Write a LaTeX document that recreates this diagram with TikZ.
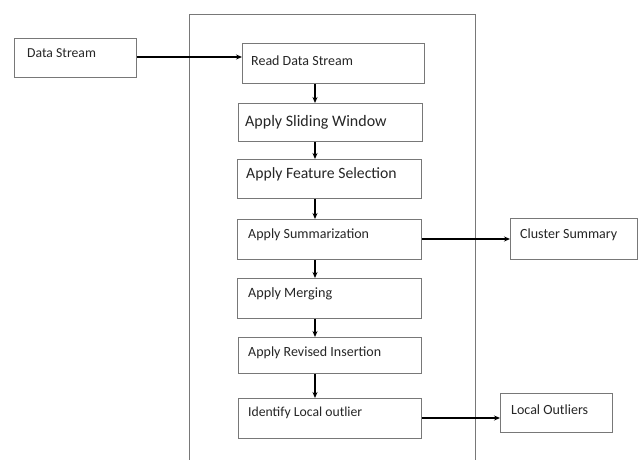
\documentclass[tikz,border=0pt]{standalone}
\usepackage{fontspec}
\setmainfont{Carlito}
\usetikzlibrary{arrows.meta,calc}
\definecolor{boxgray}{RGB}{120,120,120}
\begin{document}
\begin{tikzpicture}[x=1pt,y=-1pt,
  box/.style={draw=boxgray,line width=0.9pt,rectangle,inner sep=0pt,anchor=north west},
  lbl/.style={anchor=west,inner sep=0pt,text=black!85},
  arr/.style={-{Stealth[length=6pt,width=5pt]},line width=1.3pt,black}]
\useasboundingbox (0,0) rectangle (638,460);
\fill[white] (0,0) rectangle (638,460);
% frame
\draw[boxgray,line width=0.9pt] (189,460) -- (189,14) -- (475,14) -- (475,460);
% boxes
\node[box,minimum width=122pt,minimum height=39pt] (ds) at (14,38) {};
\node[box,minimum width=182pt,minimum height=40pt] (b1) at (242,43) {};
\node[box,minimum width=184pt,minimum height=38pt] (b2) at (238,103) {};
\node[box,minimum width=184pt,minimum height=39pt] (b3) at (237,159) {};
\node[box,minimum width=184pt,minimum height=40pt] (b4) at (237,219) {};
\node[box,minimum width=184pt,minimum height=40pt] (b5) at (237,278) {};
\node[box,minimum width=183pt,minimum height=36pt] (b6) at (238,337) {};
\node[box,minimum width=183pt,minimum height=40pt] (b7) at (238,398) {};
\node[box,minimum width=127pt,minimum height=41pt] (cs) at (510,218) {};
\node[box,minimum width=112pt,minimum height=39pt] (lo) at (500,393) {};
% labels
\node[lbl,font=\fontsize{13.7}{15}\selectfont] (tds) at (27,53) {Data Stream};
\node[lbl,font=\fontsize{14}{16}\selectfont] (t1) at (251,61) {Read Data Stream};
\node[lbl,font=\fontsize{16}{18}\selectfont] (t2) at (245,122) {Apply Sliding Window};
\node[lbl,font=\fontsize{15.7}{18}\selectfont] (t3) at (246,174) {Apply Feature Selection};
\node[lbl,font=\fontsize{14}{16}\selectfont] (t4) at (248,235) {Apply Summarization};
\node[lbl,font=\fontsize{14.2}{16}\selectfont] (t5) at (248,294) {Apply Merging};
\node[lbl,font=\fontsize{14}{16}\selectfont] (t6) at (248,353) {Apply Revised Insertion};
\node[lbl,font=\fontsize{13.7}{15}\selectfont] (t7) at (248,413) {Identify Local outlier};
\node[lbl,font=\fontsize{14}{16}\selectfont] (tcs) at (520,235) {Cluster Summary};
\node[lbl,font=\fontsize{14}{16}\selectfont] (tlo) at (511,410) {Local Outliers};
% connectors
\draw[arr] (ds.east |- 0,57) -- (b1.west |- 0,57);
\foreach \a/\b in {b1/b2,b2/b3,b3/b4,b4/b5,b5/b6,b6/b7}
  \draw[arr] (\a.south -| 315,0) -- (\b.north -| 315,0);
\draw[arr] (b4.east |- 0,239) -- (cs.west |- 0,239);
\draw[arr] (b7.east |- 0,418) -- (lo.west |- 0,418);
\end{tikzpicture}
\end{document}
